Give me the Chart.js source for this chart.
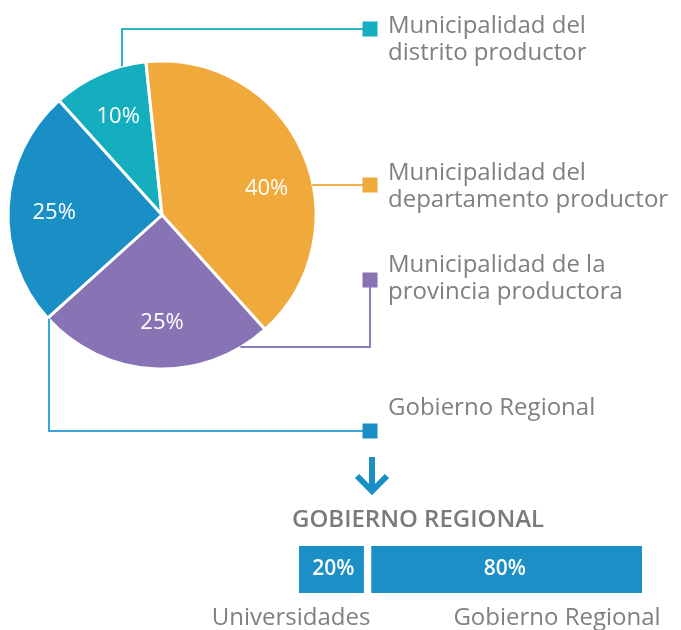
<!DOCTYPE html>
<html><head><meta charset="utf-8">
<script src="https://cdn.jsdelivr.net/npm/chart.js@4/dist/chart.umd.min.js"></script>
<style>
html,body{margin:0;padding:0;background:#fff;}
#wrap{position:relative;width:681px;height:630px;overflow:hidden;}
canvas{position:absolute;left:0;}
#pie{top:0;}
#bar{top:490px;}
</style></head><body>
<div id="wrap"><canvas id="pie" width="681" height="630"></canvas><canvas id="bar" width="681" height="140"></canvas></div>
<script>
// ---- data ----
const pieLabels = ['Municipalidad del distrito productor', 'Municipalidad del departamento productor', 'Municipalidad de la provincia productora', 'Gobierno Regional'];
const legendLines = [['Municipalidad del', 'distrito productor'], ['Municipalidad del', 'departamento productor'], ['Municipalidad de la', 'provincia productora'], ['Gobierno Regional']];
const pieValues = [10, 40, 25, 25];
const barTitle = 'GOBIERNO REGIONAL';
const barCategories = ['Universidades', 'Gobierno Regional'];
const barValues = [20, 80];

// ---- styles ----
const pieColors = ['#14aebf', '#f0aa3c', '#8874b4', '#1a8fc5'];
const lineColors = ['#2bb6c5', '#f2b04a', '#8e7cb8', '#3aa6da'];
const barColor = '#1b8fc6';
const textGray = '#808080';
const FONT = '"Open Sans", "Noto Sans", sans-serif';

const piePlugin = {
  id: 'pieDecor',
  afterDraw(chart) {
    const ctx = chart.ctx;
    const arcs = chart.getDatasetMeta(0).data;
    const cx = arcs[0].x, cy = arcs[0].y, R = arcs[0].outerRadius;
    const sqX = 370, sqSize = 15;
    const sqY = [29, 185, 280, 431];
    const edgeY = (x, dir) => cy + dir * Math.sqrt(R * R - (x - cx) * (x - cx));
    const edgeX = (y, dir) => cx + dir * Math.sqrt(R * R - (y - cy) * (y - cy));
    const paths = [
      [[122, edgeY(122, -1)], [122, sqY[0]], [sqX, sqY[0]]],
      [[edgeX(sqY[1], 1) - 1, sqY[1]], [sqX, sqY[1]]],
      [[edgeX(347, 1) - 1, 347], [sqX, 347], [sqX, sqY[2]]],
      [[49, edgeY(49, 1) - 1], [49, sqY[3]], [sqX, sqY[3]]]
    ];
    ctx.save();
    // percent labels
    const nudge = [0, 10, -3, -2];
    ctx.fillStyle = '#ffffff';
    ctx.font = '500 22px ' + FONT;
    ctx.textAlign = 'center';
    ctx.textBaseline = 'middle';
    arcs.forEach((a, i) => {
      const mid = (a.startAngle + a.endAngle) / 2 + nudge[i] * Math.PI / 180;
      const d = R * 0.70;
      ctx.fillText(pieValues[i] + '%', a.x + Math.cos(mid) * d, a.y + Math.sin(mid) * d);
    });
    // connectors
    ctx.lineWidth = 2;
    paths.forEach((p, i) => {
      ctx.strokeStyle = lineColors[i];
      ctx.beginPath();
      p.forEach((pt, j) => j ? ctx.lineTo(pt[0], pt[1]) : ctx.moveTo(pt[0], pt[1]));
      ctx.stroke();
      ctx.fillStyle = pieColors[i];
      ctx.fillRect(sqX - sqSize / 2, sqY[i] - sqSize / 2, sqSize, sqSize);
    });
    // legend texts
    const baselines = [[33, 60], [180, 207], [272, 299], [415]];
    ctx.fillStyle = textGray;
    ctx.font = '400 24px ' + FONT;
    ctx.textAlign = 'left';
    ctx.textBaseline = 'alphabetic';
    legendLines.forEach((lines, i) => lines.forEach((t, j) => ctx.fillText(t, 388, baselines[i][j])));
    // arrow
    ctx.strokeStyle = pieColors[3];
    ctx.lineWidth = 6;
    ctx.lineCap = 'butt';
    ctx.lineJoin = 'miter';
    ctx.beginPath();
    ctx.moveTo(372, 457); ctx.lineTo(372, 489);
    ctx.stroke();
    ctx.beginPath();
    ctx.moveTo(357, 476); ctx.lineTo(372, 491); ctx.lineTo(387, 476);
    ctx.stroke();
    ctx.restore();
  }
};

new Chart(document.getElementById('pie'), {
  type: 'pie',
  data: {
    labels: pieLabels,
    datasets: [{
      data: pieValues,
      backgroundColor: pieColors,
      borderColor: '#ffffff',
      borderWidth: 3,
      radius: 154,
      rotation: -42
    }]
  },
  options: {
    responsive: false,
    animation: false,
    layout: { padding: { left: 0, top: 0, right: 357, bottom: 200 } },
    plugins: { legend: { display: false }, tooltip: { enabled: false } }
  },
  plugins: [piePlugin]
});

const barPlugin = {
  id: 'barDecor',
  afterDraw(chart) {
    const ctx = chart.ctx;
    ctx.save();
    ctx.fillStyle = '#7a7a7a';
    ctx.font = '600 24px ' + FONT;
    ctx.textAlign = 'left';
    ctx.textBaseline = 'alphabetic';
    ctx.fillText(barTitle, 292, 37);
    ctx.fillStyle = '#ffffff';
    ctx.font = '600 21px ' + FONT;
    ctx.textAlign = 'center';
    ctx.textBaseline = 'middle';
    chart.data.datasets.forEach((ds, i) => {
      const el = chart.getDatasetMeta(i).data[0];
      ctx.fillText(ds.data[0] + '%', (el.x + el.base) / 2, el.y);
    });
    ctx.fillStyle = textGray;
    ctx.font = '400 24px ' + FONT;
    ctx.textBaseline = 'alphabetic';
    const centers = [291, 557];
    barCategories.forEach((c, i) => ctx.fillText(c, centers[i], 135));
    ctx.restore();
  }
};

new Chart(document.getElementById('bar'), {
  type: 'bar',
  data: {
    labels: [barTitle],
    datasets: barValues.map((v, i) => ({
      label: barCategories[i],
      data: [v],
      backgroundColor: barColor,
      borderColor: '#ffffff',
      borderWidth: i === 0 ? { right: 4, left: 0, top: 0, bottom: 0 } : { left: 4, right: 0, top: 0, bottom: 0 },
      borderSkipped: false,
      barPercentage: 1,
      categoryPercentage: 1
    }))
  },
  options: {
    indexAxis: 'y',
    responsive: false,
    animation: false,
    layout: { padding: { left: 299, right: 39, top: 56, bottom: 37 } },
    scales: {
      x: { stacked: true, display: false, min: 0, max: 100 },
      y: { stacked: true, display: false }
    },
    plugins: { legend: { display: false }, tooltip: { enabled: false } }
  },
  plugins: [barPlugin]
});
</script>
</body></html>
